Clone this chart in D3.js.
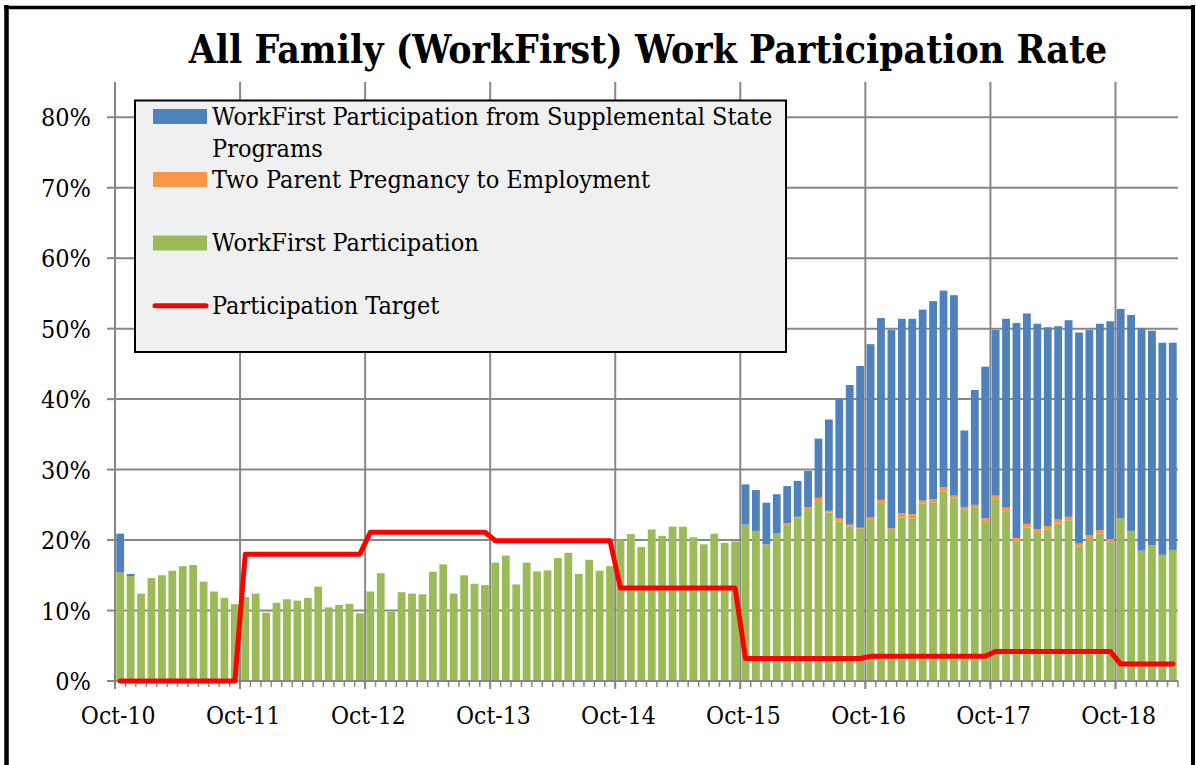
<!DOCTYPE html>
<html><head><meta charset="utf-8">
<script src="https://cdn.jsdelivr.net/npm/d3@7"></script>
<style>
body{margin:0;background:#fff}
svg{display:block}
text{font-family:"DejaVu Serif Condensed","DejaVu Serif",serif;font-stretch:condensed;fill:#000}
</style>
</head><body>
<svg id="chart" width="1196" height="765"></svg>
<script>
// ---- data (percent) ----
const startMonth = new Date(2010, 9, 1);
const endMonth = new Date(2019, 3, 1); // exclusive -> Oct-10 .. Mar-19
const months = d3.timeMonth.range(startMonth, endMonth).map(d3.timeFormat("%b-%y"));

const workFirst = [
  15.4,14.9,12.4,14.6,15.0,15.65,16.3,16.45,14.1,12.7,11.8,10.9,
  11.9,12.4,9.7,11.1,11.6,11.4,11.8,13.4,10.45,10.8,10.95,9.6,
  12.7,15.3,9.8,12.6,12.4,12.3,15.5,16.55,12.4,15.0,13.8,13.6,
  16.8,17.8,13.7,16.8,15.55,15.7,17.45,18.2,15.2,17.2,15.65,16.3,
  20.1,20.85,19.0,21.5,20.6,21.9,21.9,20.4,19.4,20.9,19.6,19.8,
  22.2,21.3,19.4,21.0,22.0,23.2,24.25,25.4,23.9,22.65,21.9,21.6,
  22.85,25.25,21.55,23.2,23.1,25.2,25.35,26.85,25.9,24.3,24.55,22.55,
  25.7,24.0,19.85,21.8,21.0,21.5,22.35,22.8,19.05,20.15,20.95,19.7,
  23.1,21.3,18.5,19.25,17.9,18.6
];
const twoParent = [
  0,0,0,0,0,0,0,0,0,0,0,0,
  0,0,0,0,0,0,0,0,0,0,0,0,
  0,0,0,0,0,0,0,0,0,0,0,0,
  0,0,0,0,0,0,0,0,0,0,0,0,
  0,0,0,0,0,0,0,0,0,0,0,0,
  0,0,0,0,0.4,0.1,0.45,0.6,0.25,0.45,0.3,0.15,
  0.35,0.45,0.15,0.6,0.6,0.4,0.45,0.65,0.4,0.4,0.45,0.55,
  0.6,0.6,0.45,0.5,0.55,0.5,0.55,0.5,0.45,0.5,0.45,0.45,
  0,0,0,0,0,0
];
const supplemental = [
  5.5,0.3,0,0,0,0,0,0,0,0,0,0,
  0,0,0,0,0,0,0,0,0,0,0,0,
  0,0,0,0,0,0,0,0,0,0,0,0,
  0,0,0,0,0,0,0,0,0,0,0,0,
  0,0,0,0,0,0,0,0,0,0,0,0,
  5.7,5.8,5.9,5.5,5.25,5.1,5.1,8.4,12.95,16.9,19.8,22.95,
  24.6,25.8,28.1,27.6,27.7,27.1,28.1,27.9,28.45,10.85,16.3,21.5,
  23.5,26.8,30.5,29.85,29.15,28.2,27.45,27.9,29.95,29.15,29.3,30.9,
  29.7,30.65,31.6,30.45,30.1,29.4
];
const target = [
  0,0,0,0,0,0,0,0,0,0,0,0,
  18.0,18.0,18.0,18.0,18.0,18.0,18.0,18.0,18.0,18.0,18.0,18.0,
  21.1,21.1,21.1,21.1,21.1,21.1,21.1,21.1,21.1,21.1,21.1,21.1,
  19.9,19.9,19.9,19.9,19.9,19.9,19.9,19.9,19.9,19.9,19.9,19.9,
  13.2,13.2,13.2,13.2,13.2,13.2,13.2,13.2,13.2,13.2,13.2,13.2,
  3.2,3.2,3.2,3.2,3.2,3.2,3.2,3.2,3.2,3.2,3.2,3.2,
  3.5,3.5,3.5,3.5,3.5,3.5,3.5,3.5,3.5,3.5,3.5,3.5,
  4.2,4.2,4.2,4.2,4.2,4.2,4.2,4.2,4.2,4.2,4.2,4.2,
  2.4,2.4,2.4,2.4,2.4,2.4
];
const yTicks = [0,10,20,30,40,50,60,70,80];
const xTickLabels = ["Oct-10","Oct-11","Oct-12","Oct-13","Oct-14","Oct-15","Oct-16","Oct-17","Oct-18"];
const colors = {wf:"#9BBB59", tppe:"#F79646", supp:"#4F81BD", target:"#FF0000"};

// ---- layout ----
const svg = d3.select("#chart");
const L = 115, R = 1178, B = 681, T = 82;
const x = d3.scaleBand().domain(months).range([L, R]).paddingInner(0.25).paddingOuter(0.125);
const y = d3.scaleLinear().domain([0, 85]).range([B, T]);
const step = x.step();
const gridColor = "#878787";

svg.append("rect").attr("width",1196).attr("height",765).attr("fill","#fff");

// gridlines
const g = svg.append("g");
g.selectAll(".hg").data(yTicks.filter(d=>d>0)).join("line")
  .attr("x1",L).attr("x2",R).attr("y1",d=>y(d)).attr("y2",d=>y(d))
  .attr("stroke",gridColor).attr("stroke-width",2);
const yearIdx = xTickLabels.map(l => months.indexOf(l));
g.selectAll(".vg").data(yearIdx.filter(i=>i>0)).join("line")
  .attr("x1",i=>L+i*step).attr("x2",i=>L+i*step).attr("y1",T).attr("y2",B+8)
  .attr("stroke",gridColor).attr("stroke-width",2);

// bars
const rows = months.map((m,i)=>({m, wf:workFirst[i], tppe:twoParent[i], supp:supplemental[i]}));
const stack = d3.stack().keys(["wf","tppe","supp"])(rows);
svg.append("g").selectAll("g").data(stack).join("g")
  .attr("fill", s => colors[s.key])
  .selectAll("rect").data(s => s).join("rect")
  .attr("x", d => x(d.data.m))
  .attr("width", x.bandwidth())
  .attr("y", d => y(d[1]))
  .attr("height", d => Math.max(0, y(d[0]) - y(d[1])));

// axes
const ax = svg.append("g");
ax.append("line").attr("x1",L).attr("x2",L).attr("y1",T).attr("y2",B+8).attr("stroke",gridColor).attr("stroke-width",2);
ax.append("line").attr("x1",L-1).attr("x2",R).attr("y1",B).attr("y2",B).attr("stroke",gridColor).attr("stroke-width",2);
ax.selectAll(".yt").data(yTicks).join("line")
  .attr("x1",L-8).attr("x2",L).attr("y1",d=>y(d)).attr("y2",d=>y(d))
  .attr("stroke",gridColor).attr("stroke-width",2);
ax.selectAll(".mt").data(d3.range(months.length+1)).join("line")
  .attr("x1",i=>L+i*step).attr("x2",i=>L+i*step).attr("y1",B).attr("y2",B+6)
  .attr("stroke",gridColor).attr("stroke-width",1.5);
ax.selectAll(".yl").data(yTicks).join("text")
  .attr("x",91).attr("y",d=>y(d)).attr("dy","0.36em")
  .attr("text-anchor","end").attr("font-size",25)
  .text(d=>d+"%");
ax.selectAll(".xl").data(xTickLabels).join("text")
  .attr("x",d=>x(d)+x.bandwidth()/2 - 2).attr("y",724)
  .attr("text-anchor","middle").attr("font-size",24.5)
  .text(d=>d);

// target line
const line = d3.line().x((d,i)=>x(months[i])+x.bandwidth()/2).y(d=>y(d));
svg.append("path").datum(target).attr("d",line)
  .attr("fill","none").attr("stroke",colors.target).attr("stroke-width",5)
  .attr("stroke-linecap","round").attr("stroke-linejoin","round");

// title
svg.append("text").attr("x",648).attr("y",63).attr("text-anchor","middle")
  .attr("font-size",38.8).attr("font-weight","bold")
  .text("All Family (WorkFirst) Work Participation Rate");

// legend
const lg = svg.append("g");
lg.append("rect").attr("x",135).attr("y",100.5).attr("width",651).attr("height",251.5)
  .attr("fill","#f0f0f0").attr("stroke","#000").attr("stroke-width",2);
const legendItems = [
  {key:"supp", lines:["WorkFirst Participation from Supplemental State","Programs"], cy:116.5},
  {key:"tppe", lines:["Two Parent Pregnancy to Employment"], cy:179.5},
  {key:"wf", lines:["WorkFirst Participation"], cy:243},
  {key:"target", lines:["Participation Target"], cy:305.7}
];
legendItems.forEach(it=>{
  if(it.key==="target"){
    lg.append("line").attr("x1",155).attr("x2",206).attr("y1",it.cy).attr("y2",it.cy)
      .attr("stroke",colors.target).attr("stroke-width",5).attr("stroke-linecap","round");
  } else {
    lg.append("rect").attr("x",153).attr("y",it.cy-7.5).attr("width",54).attr("height",15)
      .attr("fill",colors[it.key]);
  }
  it.lines.forEach((t,j)=>{
    lg.append("text").attr("x",212).attr("y",it.cy+8+j*32).attr("font-size",25).text(t);
  });
});

// outer frame
const fr = svg.append("g").attr("stroke","#000").attr("fill","none");
fr.append("line").attr("x1",6.5).attr("x2",6.5).attr("y1",5).attr("y2",765).attr("stroke-width",4.5);
fr.append("line").attr("x1",4).attr("x2",1195).attr("y1",7.5).attr("y2",7.5).attr("stroke-width",3.5);
fr.append("line").attr("x1",1193).attr("x2",1193).attr("y1",5).attr("y2",765).attr("stroke-width",4);
</script>
</body></html>
